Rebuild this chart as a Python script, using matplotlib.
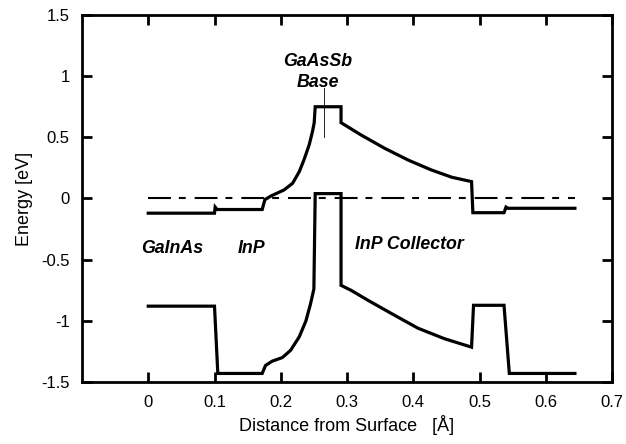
import matplotlib
matplotlib.use('Agg')
import matplotlib.pyplot as plt

plt.rcParams['font.family'] = ['Liberation Sans', 'DejaVu Sans']

# conduction band
cb_x = [0, 0.1, 0.101, 0.104, 0.172, 0.176, 0.185, 0.205, 0.218, 0.228, 0.235,
        0.243, 0.248, 0.2505, 0.252, 0.291, 0.291, 0.321, 0.357, 0.392, 0.427,
        0.458, 0.488, 0.49, 0.537, 0.54, 0.543, 0.644]
cb_y = [-0.12, -0.12, -0.07, -0.09, -0.09, -0.01, 0.02, 0.07, 0.125, 0.22, 0.315,
        0.44, 0.55, 0.62, 0.75, 0.75, 0.62, 0.52, 0.41, 0.315, 0.234,
        0.174, 0.138, -0.116, -0.116, -0.07, -0.08, -0.08]

# valence band
vb_x = [0, 0.1, 0.105, 0.172, 0.177, 0.187, 0.2025, 0.215, 0.228, 0.238, 0.245,
        0.25, 0.252, 0.291, 0.291, 0.306, 0.331, 0.367, 0.407, 0.447, 0.488,
        0.491, 0.537, 0.545, 0.644]
vb_y = [-0.88, -0.88, -1.43, -1.43, -1.365, -1.33, -1.30, -1.24, -1.13, -1.0, -0.86,
        -0.74, 0.04, 0.04, -0.71, -0.75, -0.83, -0.94, -1.06, -1.146, -1.215,
        -0.873, -0.873, -1.43, -1.43]

# fermi level
ef_x = [0, 0.644]
ef_y = [0, 0]

fig = plt.figure(figsize=(6.26, 4.44), dpi=100)
ax = fig.add_axes([82 / 626, 1 - 382 / 444, 530 / 626, 367 / 444])

ax.plot(ef_x, ef_y, color='black', lw=1.5, dashes=(11, 3.8, 3.3, 4.3))
ax.plot(cb_x, cb_y, color='black', lw=2.3, solid_joinstyle='miter')
ax.plot(vb_x, vb_y, color='black', lw=2.3, solid_joinstyle='miter')

# marker line for base
ax.plot([0.265, 0.265], [0.5, 0.9], color='black', lw=0.6)

lbl = dict(fontsize=12.8, fontweight='bold', fontstyle='italic', ha='center', va='center')
ax.text(0.256, 1.12, 'GaAsSb', **lbl)
ax.text(0.256, 0.95, 'Base', **lbl)
ax.text(0.036, -0.41, 'GaInAs', **lbl)
ax.text(0.156, -0.41, 'InP', **lbl)
ax.text(0.394, -0.38, 'InP Collector', **lbl)

ax.set_xlim(-0.1, 0.7)
ax.set_ylim(-1.5, 1.5)
ax.set_xticks([0, 0.1, 0.2, 0.3, 0.4, 0.5, 0.6, 0.7])
ax.set_xticklabels(['0', '0.1', '0.2', '0.3', '0.4', '0.5', '0.6', '0.7'])
ax.set_yticks([-1.5, -1, -0.5, 0, 0.5, 1, 1.5])
ax.set_yticklabels(['-1.5', '-1', '-0.5', '0', '0.5', '1', '1.5'])
ax.tick_params(direction='in', length=7, width=2, top=True, right=True,
               labelsize=12, pad=9)
for s in ax.spines.values():
    s.set_linewidth(2)

ax.set_xlabel('Distance from Surface   [Å]', fontsize=13, labelpad=4)
ax.set_ylabel('Energy [eV]', fontsize=13, labelpad=6)

fig.savefig('out.png', dpi=100)
